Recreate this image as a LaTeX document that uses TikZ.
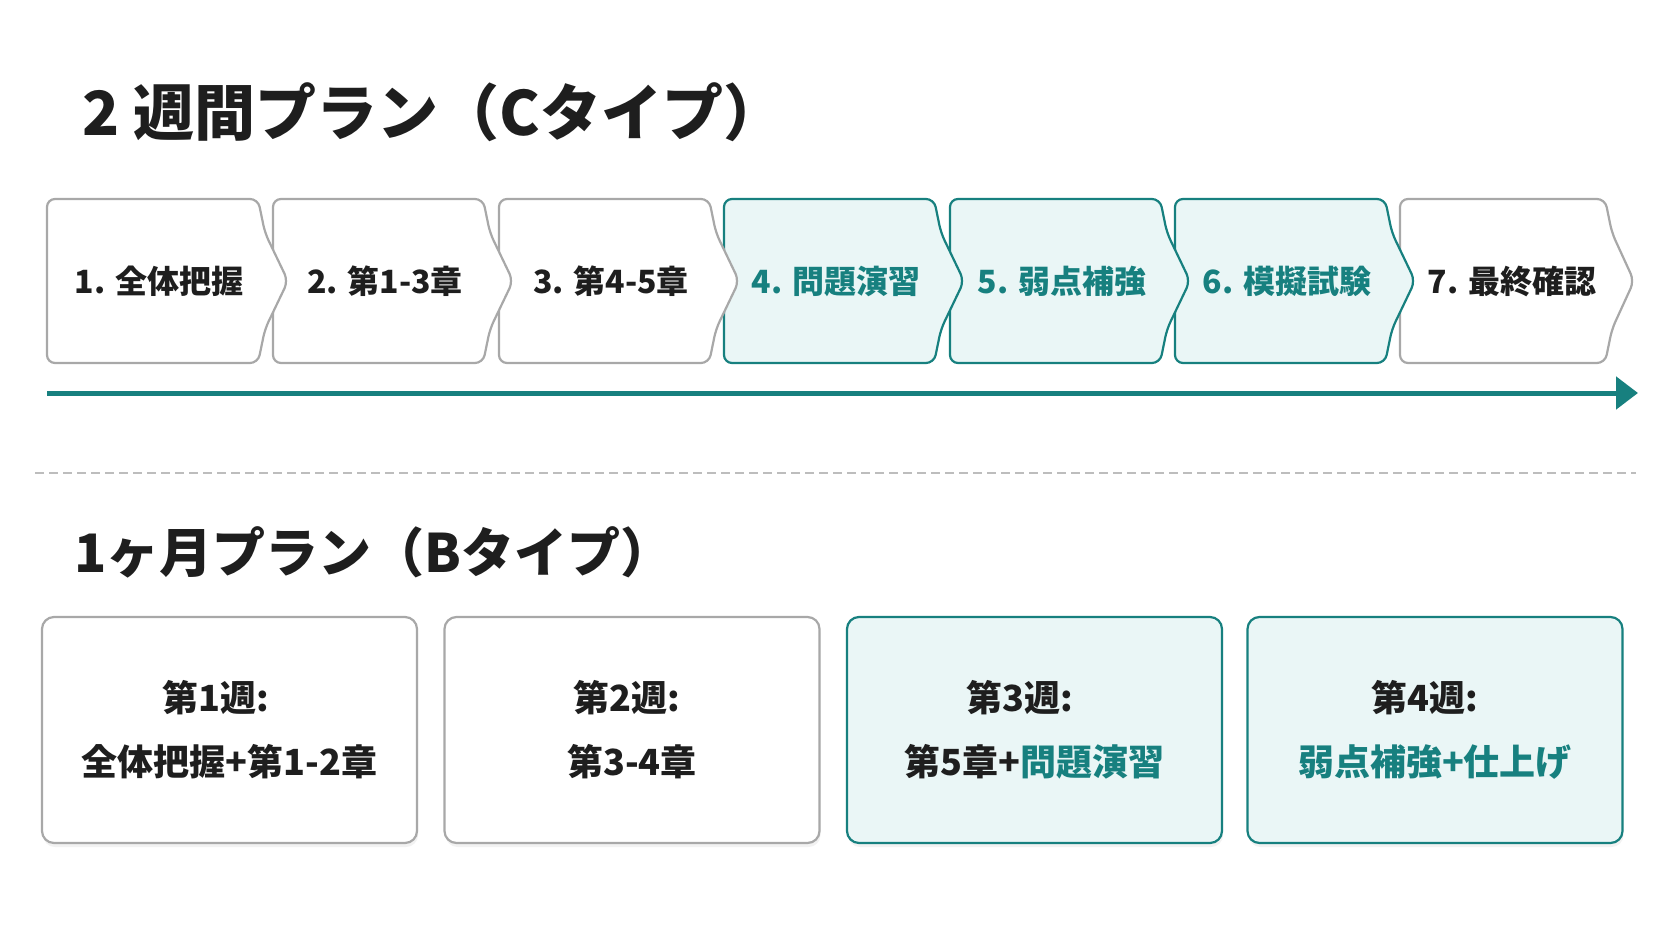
\documentclass[tikz,border=0pt]{standalone}
\usepackage{fontspec}
\setmainfont{Noto Sans CJK JP}
\usepackage{xcolor}
\usetikzlibrary{arrows.meta,shadows}
\definecolor{tealmain}{HTML}{17807F}
\definecolor{tealfill}{HTML}{EAF6F6}
\definecolor{boxgray}{HTML}{A8A8A8}
\definecolor{inkdark}{HTML}{1E1E1E}
\definecolor{dashgray}{HTML}{BDBDBD}

\begin{document}
\begin{tikzpicture}[x=1pt, y=-1pt,
	chev/.style={draw=boxgray, fill=white, line width=2.2pt, rounded corners=8pt},
	chevhi/.style={chev, draw=tealmain, fill=tealfill},
	steplabel/.style={font=\bfseries\fontsize{32pt}{36pt}\selectfont, text=inkdark},
	steplabelhi/.style={steplabel, text=tealmain},
	weekbox/.style={draw=boxgray, fill=white, line width=2.2pt, rounded corners=12pt, minimum width=375pt, minimum height=226pt, inner sep=0pt, align=center, text=inkdark, font=\bfseries\fontsize{36pt}{64pt}\selectfont, drop shadow={shadow xshift=1pt, shadow yshift=-4pt, opacity=0.10}},
	weekboxhi/.style={weekbox, draw=tealmain, fill=tealfill},
	plantitle/.style={anchor=west, inner sep=0pt, text=inkdark, font=\bfseries\fontsize{61pt}{66pt}\selectfont},
	timeline/.style={-{Triangle[length=22pt,width=32pt]}, line width=5pt, draw=tealmain},
	divider/.style={draw=dashgray, line width=1.5pt, dash pattern=on 9pt off 5pt}]
		\useasboundingbox (0,0) rectangle (1672,941);
		\fill [white] (0,0) rectangle (1672,941);
		
		\node [plantitle] (title2w) at (82,112) {2 週間プラン（Cタイプ）};
		
		\draw [chev] (1400,199) -- (1605,199) -- (1612,233) -- (1634,281) -- (1612,329) -- (1605,363) -- (1400,363) -- cycle;
		\draw [chevhi] (1175,199) -- (1385,199) -- (1392,233) -- (1415,281) -- (1392,329) -- (1385,363) -- (1175,363) -- cycle;
		\draw [chevhi] (950,199) -- (1160,199) -- (1167,233) -- (1190,281) -- (1167,329) -- (1160,363) -- (950,363) -- cycle;
		\draw [chevhi] (724,199) -- (934,199) -- (941,233) -- (964,281) -- (941,329) -- (934,363) -- (724,363) -- cycle;
		\draw [chev] (499,199) -- (709,199) -- (716,233) -- (739,281) -- (716,329) -- (709,363) -- (499,363) -- cycle;
		\draw [chev] (273,199) -- (483,199) -- (490,233) -- (513,281) -- (490,329) -- (483,363) -- (273,363) -- cycle;
		\draw [chev] (47,199) -- (258,199) -- (265,233) -- (288,281) -- (265,329) -- (258,363) -- (47,363) -- cycle;
		
		\node [steplabel] (s1) at (159,281) {1. 全体把握};
		\node [steplabel] (s2) at (385,281) {2. 第1-3章};
		\node [steplabel] (s3) at (611,281) {3. 第4-5章};
		\node [steplabelhi] (s4) at (836,281) {4. 問題演習};
		\node [steplabelhi] (s5) at (1062,281) {5. 弱点補強};
		\node [steplabelhi] (s6) at (1287,281) {6. 模擬試験};
		\node [steplabel] (s7) at (1512,281) {7. 最終確認};
		
		\coordinate (tlstart) at (47,393);
		\coordinate (tlend) at (1638,393);
		\draw [timeline] (tlstart) -- (tlend);
		
		\coordinate (divl) at (35,473);
		\coordinate (divr) at (1636,473);
		\draw [divider] (divl) -- (divr);
		
		\node [plantitle, font=\bfseries\fontsize{53pt}{60pt}\selectfont] (title1m) at (74,552) {1ヶ月プラン（Bタイプ）};
		
		\node [weekbox] (w1) at (229.5,730) {第1週:\kern28pt\\全体把握+第1-2章};
		\node [weekbox] (w2) at (632,730) {第2週:\kern10pt\\第3-4章};
		\node [weekboxhi] (w3) at (1034.5,730) {第3週:\kern30pt\\第5章+\textcolor{tealmain}{問題演習}};
		\node [weekboxhi] (w4) at (1435,730) {第4週:\kern20pt\\\textcolor{tealmain}{弱点補強+仕上げ}};
\end{tikzpicture}
\end{document}
